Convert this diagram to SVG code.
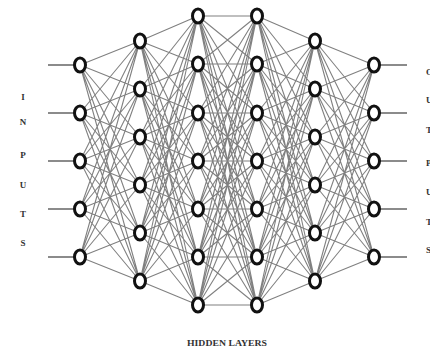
<svg xmlns="http://www.w3.org/2000/svg" width="430" height="354" viewBox="0 0 430 354">
  <style>
    .edge { fill: none; stroke: #808080; stroke-width: 1.1; }
    .io { fill: none; stroke: #666; stroke-width: 1.3; }
    .node ellipse { fill: #fff; stroke: #111; stroke-width: 3; }
    .lbl { font-family: "Liberation Serif", serif; font-weight: bold; font-size: 9px; fill: #333; text-anchor: middle; }
    .cap { font-family: "Liberation Serif", serif; font-weight: bold; font-size: 8px; fill: #333; }
  </style>
  <rect width="430" height="354" fill="#fff"/>

  <g id="connectors">
    <!-- input and output stubs -->
    <path class="io" d="M48 65H80M48 113H80M48 161H80M48 209H80M48 257H80"/>
    <path class="io" d="M374 65H407M374 113H407M374 161H407M374 209H407M374 257H407"/>
    <!-- layer 1 to layer 2 -->
    <path class="edge" d="M80 65L140 41M80 65L140 89M80 65L140 137M80 65L140 185M80 65L140 233M80 65L140 281
      M80 113L140 41M80 113L140 89M80 113L140 137M80 113L140 185M80 113L140 233M80 113L140 281
      M80 161L140 41M80 161L140 89M80 161L140 137M80 161L140 185M80 161L140 233M80 161L140 281
      M80 209L140 41M80 209L140 89M80 209L140 137M80 209L140 185M80 209L140 233M80 209L140 281
      M80 257L140 41M80 257L140 89M80 257L140 137M80 257L140 185M80 257L140 233M80 257L140 281"/>
    <!-- layer 2 to layer 3 -->
    <path class="edge" d="M140 41L198 16M140 41L198 64M140 41L198 113M140 41L198 161M140 41L198 209M140 41L198 257M140 41L198 305
      M140 89L198 16M140 89L198 64M140 89L198 113M140 89L198 161M140 89L198 209M140 89L198 257M140 89L198 305
      M140 137L198 16M140 137L198 64M140 137L198 113M140 137L198 161M140 137L198 209M140 137L198 257M140 137L198 305
      M140 185L198 16M140 185L198 64M140 185L198 113M140 185L198 161M140 185L198 209M140 185L198 257M140 185L198 305
      M140 233L198 16M140 233L198 64M140 233L198 113M140 233L198 161M140 233L198 209M140 233L198 257M140 233L198 305
      M140 281L198 16M140 281L198 64M140 281L198 113M140 281L198 161M140 281L198 209M140 281L198 257M140 281L198 305"/>
    <!-- layer 3 to layer 4 -->
    <path class="edge" d="M198 16L257 16M198 16L257 64M198 16L257 113M198 16L257 161M198 16L257 209M198 16L257 257M198 16L257 305
      M198 64L257 16M198 64L257 64M198 64L257 113M198 64L257 161M198 64L257 209M198 64L257 257M198 64L257 305
      M198 113L257 16M198 113L257 64M198 113L257 113M198 113L257 161M198 113L257 209M198 113L257 257M198 113L257 305
      M198 161L257 16M198 161L257 64M198 161L257 113M198 161L257 161M198 161L257 209M198 161L257 257M198 161L257 305
      M198 209L257 16M198 209L257 64M198 209L257 113M198 209L257 161M198 209L257 209M198 209L257 257M198 209L257 305
      M198 257L257 16M198 257L257 64M198 257L257 113M198 257L257 161M198 257L257 209M198 257L257 257M198 257L257 305
      M198 305L257 16M198 305L257 64M198 305L257 113M198 305L257 161M198 305L257 209M198 305L257 257M198 305L257 305"/>
    <!-- layer 4 to layer 5 -->
    <path class="edge" d="M257 16L315 41M257 16L315 89M257 16L315 137M257 16L315 185M257 16L315 233M257 16L315 281
      M257 64L315 41M257 64L315 89M257 64L315 137M257 64L315 185M257 64L315 233M257 64L315 281
      M257 113L315 41M257 113L315 89M257 113L315 137M257 113L315 185M257 113L315 233M257 113L315 281
      M257 161L315 41M257 161L315 89M257 161L315 137M257 161L315 185M257 161L315 233M257 161L315 281
      M257 209L315 41M257 209L315 89M257 209L315 137M257 209L315 185M257 209L315 233M257 209L315 281
      M257 257L315 41M257 257L315 89M257 257L315 137M257 257L315 185M257 257L315 233M257 257L315 281
      M257 305L315 41M257 305L315 89M257 305L315 137M257 305L315 185M257 305L315 233M257 305L315 281"/>
    <!-- layer 5 to layer 6 -->
    <path class="edge" d="M315 41L374 65M315 41L374 113M315 41L374 161M315 41L374 209M315 41L374 257
      M315 89L374 65M315 89L374 113M315 89L374 161M315 89L374 209M315 89L374 257
      M315 137L374 65M315 137L374 113M315 137L374 161M315 137L374 209M315 137L374 257
      M315 185L374 65M315 185L374 113M315 185L374 161M315 185L374 209M315 185L374 257
      M315 233L374 65M315 233L374 113M315 233L374 161M315 233L374 209M315 233L374 257
      M315 281L374 65M315 281L374 113M315 281L374 161M315 281L374 209M315 281L374 257"/>
  </g>

  <!-- input layer -->
  <g id="in1" class="node"><ellipse cx="80" cy="65" rx="5.5" ry="7"/></g>
  <g id="in2" class="node"><ellipse cx="80" cy="113" rx="5.5" ry="7"/></g>
  <g id="in3" class="node"><ellipse cx="80" cy="161" rx="5.5" ry="7"/></g>
  <g id="in4" class="node"><ellipse cx="80" cy="209" rx="5.5" ry="7"/></g>
  <g id="in5" class="node"><ellipse cx="80" cy="257" rx="5.5" ry="7"/></g>

  <!-- hidden layer 1 -->
  <g id="h1a" class="node"><ellipse cx="140" cy="41" rx="5.5" ry="7"/></g>
  <g id="h1b" class="node"><ellipse cx="140" cy="89" rx="5.5" ry="7"/></g>
  <g id="h1c" class="node"><ellipse cx="140" cy="137" rx="5.5" ry="7"/></g>
  <g id="h1d" class="node"><ellipse cx="140" cy="185" rx="5.5" ry="7"/></g>
  <g id="h1e" class="node"><ellipse cx="140" cy="233" rx="5.5" ry="7"/></g>
  <g id="h1f" class="node"><ellipse cx="140" cy="281" rx="5.5" ry="7"/></g>

  <!-- hidden layer 2 -->
  <g id="h2a" class="node"><ellipse cx="198" cy="16" rx="5.5" ry="7"/></g>
  <g id="h2b" class="node"><ellipse cx="198" cy="64" rx="5.5" ry="7"/></g>
  <g id="h2c" class="node"><ellipse cx="198" cy="113" rx="5.5" ry="7"/></g>
  <g id="h2d" class="node"><ellipse cx="198" cy="161" rx="5.5" ry="7"/></g>
  <g id="h2e" class="node"><ellipse cx="198" cy="209" rx="5.5" ry="7"/></g>
  <g id="h2f" class="node"><ellipse cx="198" cy="257" rx="5.5" ry="7"/></g>
  <g id="h2g" class="node"><ellipse cx="198" cy="305" rx="5.5" ry="7"/></g>

  <!-- hidden layer 3 -->
  <g id="h3a" class="node"><ellipse cx="257" cy="16" rx="5.5" ry="7"/></g>
  <g id="h3b" class="node"><ellipse cx="257" cy="64" rx="5.5" ry="7"/></g>
  <g id="h3c" class="node"><ellipse cx="257" cy="113" rx="5.5" ry="7"/></g>
  <g id="h3d" class="node"><ellipse cx="257" cy="161" rx="5.5" ry="7"/></g>
  <g id="h3e" class="node"><ellipse cx="257" cy="209" rx="5.5" ry="7"/></g>
  <g id="h3f" class="node"><ellipse cx="257" cy="257" rx="5.5" ry="7"/></g>
  <g id="h3g" class="node"><ellipse cx="257" cy="305" rx="5.5" ry="7"/></g>

  <!-- hidden layer 4 -->
  <g id="h4a" class="node"><ellipse cx="315" cy="41" rx="5.5" ry="7"/></g>
  <g id="h4b" class="node"><ellipse cx="315" cy="89" rx="5.5" ry="7"/></g>
  <g id="h4c" class="node"><ellipse cx="315" cy="137" rx="5.5" ry="7"/></g>
  <g id="h4d" class="node"><ellipse cx="315" cy="185" rx="5.5" ry="7"/></g>
  <g id="h4e" class="node"><ellipse cx="315" cy="233" rx="5.5" ry="7"/></g>
  <g id="h4f" class="node"><ellipse cx="315" cy="281" rx="5.5" ry="7"/></g>

  <!-- output layer -->
  <g id="out1" class="node"><ellipse cx="374" cy="65" rx="5.5" ry="7"/></g>
  <g id="out2" class="node"><ellipse cx="374" cy="113" rx="5.5" ry="7"/></g>
  <g id="out3" class="node"><ellipse cx="374" cy="161" rx="5.5" ry="7"/></g>
  <g id="out4" class="node"><ellipse cx="374" cy="209" rx="5.5" ry="7"/></g>
  <g id="out5" class="node"><ellipse cx="374" cy="257" rx="5.5" ry="7"/></g>

  <!-- side captions -->
  <g id="inputs-label" class="lbl">
    <text x="23" y="100">I</text>
    <text x="23" y="125">N</text>
    <text x="23" y="158">P</text>
    <text x="23" y="188">U</text>
    <text x="23" y="217">T</text>
    <text x="23" y="246">S</text>
  </g>
  <g id="outputs-label" class="lbl" style="text-anchor:start">
    <text x="426" y="75">O</text>
    <text x="426" y="103">U</text>
    <text x="426" y="133">T</text>
    <text x="426" y="166">P</text>
    <text x="426" y="195">U</text>
    <text x="426" y="225">T</text>
    <text x="426" y="253">S</text>
  </g>

  <text class="cap" x="187" y="346" textLength="80" lengthAdjust="spacingAndGlyphs">HIDDEN LAYERS</text>
</svg>
